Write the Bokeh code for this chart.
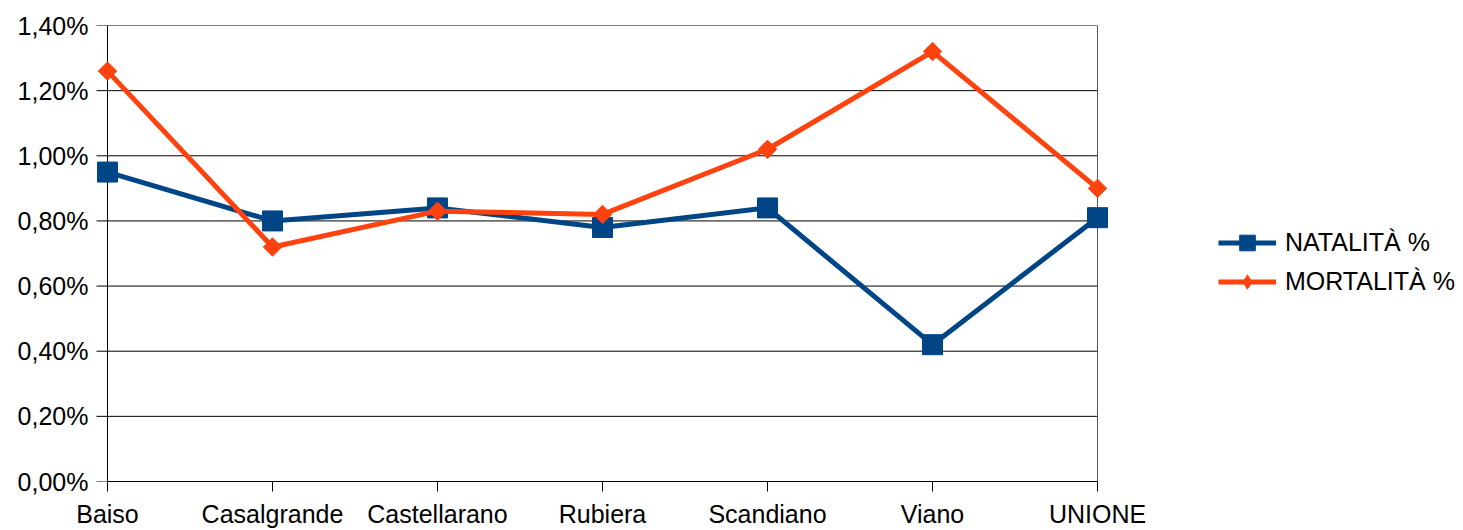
import numpy as np
from bokeh.plotting import figure
from bokeh.models import Range1d, FixedTicker, CustomJSTickFormatter, Legend, LegendItem
from bokeh.embed import file_html
from bokeh.resources import INLINE

categories = ["Baiso", "Casalgrande", "Castellarano", "Rubiera", "Scandiano", "Viano", "UNIONE"]
natalita = [0.95, 0.80, 0.84, 0.78, 0.84, 0.42, 0.81]
mortalita = [1.26, 0.72, 0.83, 0.82, 1.02, 1.32, 0.90]
y_ticks = [0.0, 0.2, 0.4, 0.6, 0.8, 1.0, 1.2, 1.4]

FONT = "Liberation Sans"
NAVY = "#004586"
ORANGE = "#ff420e"

xs = list(range(len(categories)))
x_last = len(categories) - 1
# plot area spans 107..1097 px; frame starts a little earlier so edge markers are not clipped
ppu = (1097 - 107) / x_last
frame_left = 95
x_start = -(107 - frame_left) / ppu
x_end = (1463 - 107) / ppu
tick_len = 11 / ppu

p = figure(width=1463, height=530, output_backend="svg", toolbar_location=None,
           x_range=Range1d(x_start, x_end), y_range=Range1d(0, 1.4),
           min_border_left=frame_left, min_border_right=0, min_border_top=25, min_border_bottom=47)

p.background_fill_color = "white"
p.border_fill_color = "white"
p.outline_line_color = None

p.xaxis.ticker = FixedTicker(ticks=xs)
p.xaxis.major_label_overrides = {i: c for i, c in enumerate(categories)}
p.xaxis.bounds = (0, x_last)
p.yaxis.ticker = FixedTicker(ticks=y_ticks)
p.yaxis.formatter = CustomJSTickFormatter(code="return tick.toFixed(2).replace('.', ',') + '%';")

for ax in (p.xaxis[0], p.yaxis[0]):
    ax.major_label_text_font = FONT
    ax.major_label_text_font_size = "25px"
    ax.major_label_text_color = "black"
    ax.axis_line_color = "black"
    ax.axis_line_width = 1
    ax.major_tick_line_color = "black"
    ax.major_tick_in = 0
    ax.major_tick_out = 10
    ax.minor_tick_line_color = None
# the y axis line and ticks are drawn at x=0 inside the frame (below); keep only labels here
p.yaxis.axis_line_color = None
p.yaxis.major_tick_line_color = None
p.yaxis.major_tick_out = 0
p.yaxis.major_label_standoff = 7
p.xaxis.major_label_standoff = 8

p.xgrid.grid_line_color = None
p.ygrid.grid_line_color = None

# horizontal grid lines limited to the plot area (with outward ticks), y axis line, right border
p.segment(x0=[-tick_len] * len(y_ticks), x1=[x_last] * len(y_ticks), y0=y_ticks, y1=y_ticks,
          line_color="black", line_width=1)
p.segment(x0=[0], x1=[0], y0=[y_ticks[0]], y1=[y_ticks[-1]],
          line_color="black", line_width=1)
p.segment(x0=[x_last], x1=[x_last], y0=[y_ticks[0]], y1=[y_ticks[-1]],
          line_color="#555555", line_width=1)

l1 = p.line(xs, natalita, line_color=NAVY, line_width=5)
s1 = p.scatter(xs, natalita, marker="square", size=20, fill_color=NAVY, line_color=NAVY)
l2 = p.line(xs, mortalita, line_color=ORANGE, line_width=5)
s2 = p.scatter(xs, mortalita, marker="square", angle=np.pi / 4, size=13,
               fill_color=ORANGE, line_color=ORANGE)
# legend-only diamond (zero size in the plot)
s2_leg = p.scatter(xs, mortalita, marker="diamond", size=0, fill_color=ORANGE,
                   line_color=None)

legend = Legend(items=[LegendItem(label="NATALITÀ %", renderers=[l1, s1]),
                       LegendItem(label="MORTALITÀ %", renderers=[l2, s2_leg])],
                location=(1111 + (107 - frame_left), 180), orientation="vertical",
                glyph_width=58, glyph_height=39, spacing=0, padding=0, margin=0,
                label_standoff=9, label_text_font=FONT, label_text_font_size="25px",
                label_text_color="black", border_line_color=None,
                background_fill_alpha=0)
p.add_layout(legend, "center")

open("out.html", "w").write(file_html(p, INLINE))
